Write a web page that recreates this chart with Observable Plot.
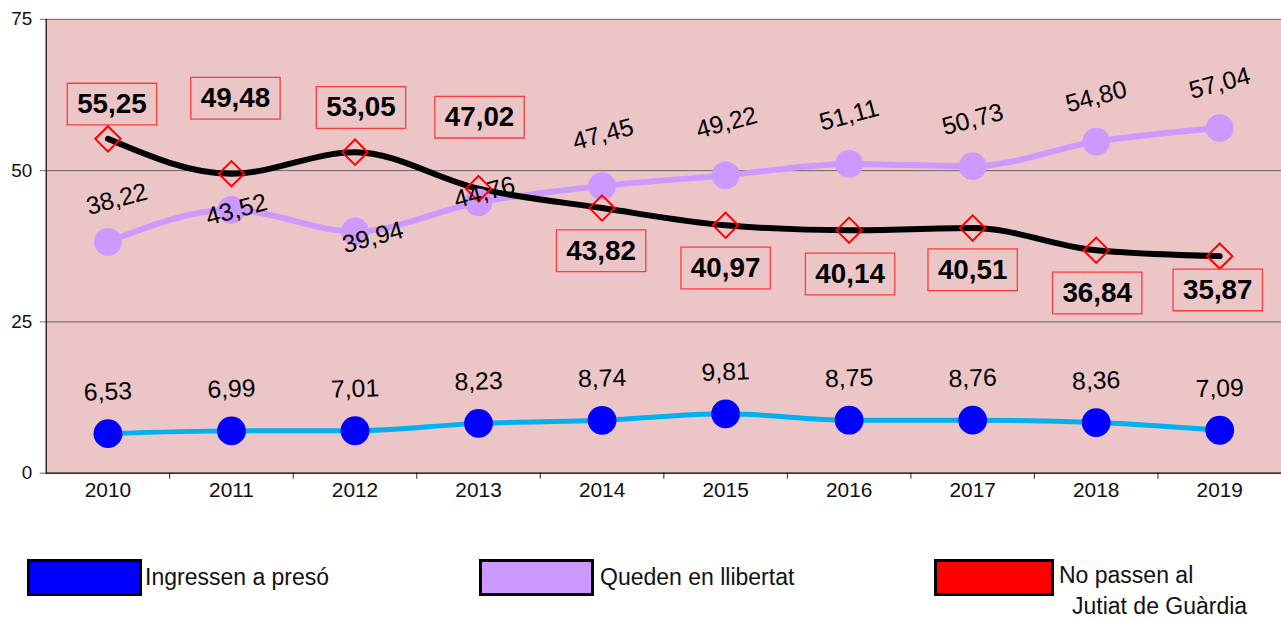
<!DOCTYPE html>
<html>
<head>
<meta charset="utf-8">
<script src="https://cdn.jsdelivr.net/npm/d3@7"></script>
<script src="https://cdn.jsdelivr.net/npm/@observablehq/plot@0.6"></script>
<style>
  html, body { margin: 0; padding: 0; background: #fff; }
  #wrap { position: relative; width: 1281px; height: 621px; overflow: hidden; font-family: "Liberation Sans", Arial, sans-serif; }
  #chart { position: absolute; left: 0; top: 0; }
  .lg-box { position: absolute; box-sizing: border-box; border: 3px solid #000; width: 115px; height: 37px; }
  .lg-txt { position: absolute; font-size: 23px; line-height: 28px; color: #111; white-space: nowrap; }
</style>
</head>
<body>
<div id="wrap">
  <div id="chart"></div>
  <div class="lg-box" style="left:27px; top:559px; background:#0000ff;"></div>
  <div class="lg-txt" style="left:145px; top:563px;">Ingressen a presó</div>
  <div class="lg-box" style="left:479px; top:559px; background:#cc99ff;"></div>
  <div class="lg-txt" style="left:600px; top:563px;">Queden en llibertat</div>
  <div class="lg-box" style="left:934px; top:559px; width:120px; background:#ff0000;"></div>
  <div class="lg-txt" style="left:1059px; top:561px;">No passen al</div>
  <div class="lg-txt" style="left:1072px; top:592px;">Jutiat de Guàrdia</div>
</div>
<script>
// ---- data ----
const years = [2010, 2011, 2012, 2013, 2014, 2015, 2016, 2017, 2018, 2019];
const ingressen = [6.53, 6.99, 7.01, 8.23, 8.74, 9.81, 8.75, 8.76, 8.36, 7.09];
const queden = [38.22, 43.52, 39.94, 44.76, 47.45, 49.22, 51.11, 50.73, 54.80, 57.04];
const noPassen = [55.25, 49.48, 53.05, 47.02, 43.82, 40.97, 40.14, 40.51, 36.84, 35.87];
const yTicks = [0, 25, 50, 75];

// ---- label layout (pixel offsets, not data) ----
const quedenDy = [-43, 0, 6, -10, -52, -53, -49, -47, -45, -45];
const quedenDx = [9, 5, 18, 6, 1, 1, 0, 0, 0, 0];
const noPassenDy = [-35, -76, -45, -72, 43, 43, 44, 42, 43, 34];
const noPassenDx = [4, 4, 6, 1, -1, 0, 1, 0, 1, -2];

const fmt = v => v.toFixed(2).replace(".", ",");
const idx = years.map((_, i) => i);
const FONT = "Liberation Sans, Arial, sans-serif";

const boxSymbol = { draw(ctx) { ctx.rect(-45, -21, 90, 42); } };

const marks = [
  Plot.frame({ fill: "#ecc5c7", stroke: null }),
  Plot.ruleY(yTicks.filter(t => t > 0), { stroke: "#6e6266", strokeWidth: 1 }),
  Plot.ruleX(years.slice(1), { x: d => d - 0.5, y1: 0, y2: -1, stroke: "#222" }),
  Plot.ruleY([0], { stroke: "#000", strokeWidth: 1.2 }),
  Plot.ruleX([years[0] - 0.5], { stroke: "#000", strokeWidth: 1.2 }),
  Plot.axisY({ ticks: yTicks, tickSize: 6, tickPadding: 8, fontSize: 19, stroke: "#666", fill: "#111", label: null }),
  Plot.axisX({ ticks: years, tickFormat: "d", tickSize: 0, tickPadding: 8, fontSize: 21, fill: "#111", label: null }),
  Plot.line(idx, { x: i => years[i], y: i => ingressen[i], stroke: "#00b0f0", strokeWidth: 5, curve: "monotone-x" }),
  Plot.line(idx, { x: i => years[i], y: i => queden[i], stroke: "#cc99ff", strokeWidth: 6, curve: "monotone-x" }),
  Plot.line(idx, { x: i => years[i], y: i => noPassen[i], stroke: "#000", strokeWidth: 6, curve: "monotone-x" }),
  Plot.dot(idx, { x: i => years[i], y: i => ingressen[i], r: 14.5, fill: "#0000ff", stroke: null }),
  Plot.dot(idx, { x: i => years[i], y: i => queden[i], r: 14, fill: "#cc99ff", stroke: null }),
  Plot.dot(idx, { x: i => years[i], y: i => noPassen[i], symbol: "diamond2", r: 11.5, fill: "none", stroke: "#ff0000", strokeWidth: 2 }),
  Plot.text(idx, { x: i => years[i], y: i => ingressen[i], text: i => fmt(ingressen[i]), dy: -42, rotate: -2, fontSize: 25, fill: "#000", fontFamily: FONT })
];

idx.forEach(i => {
  marks.push(Plot.text([i], { x: i => years[i], y: i => queden[i], text: i => fmt(queden[i]), dx: quedenDx[i], dy: quedenDy[i], rotate: -15, fontSize: 25, fill: "#000", fontFamily: FONT }));
  marks.push(Plot.dot([i], { x: i => years[i], y: i => noPassen[i], dx: noPassenDx[i], dy: noPassenDy[i], symbol: boxSymbol, r: 5, fill: "none", stroke: "#ff3b3b", strokeWidth: 1.3 }));
  marks.push(Plot.text([i], { x: i => years[i], y: i => noPassen[i], text: i => fmt(noPassen[i]), dx: noPassenDx[i], dy: noPassenDy[i], fontSize: 28, fontWeight: "bold", fill: "#000", fontFamily: FONT }));
});

const chart = Plot.plot({
  width: 1290,
  height: 512,
  marginTop: 19,
  marginBottom: 35,
  marginLeft: 46,
  marginRight: 0,
  x: { type: "linear", domain: [years[0] - 0.5, years[years.length - 1] + 0.5] },
  y: { domain: [0, 75], range: [476, 19] },
  style: { fontFamily: FONT, background: "transparent", overflow: "visible" },
  marks
});
document.getElementById("chart").appendChild(chart);
</script>
</body>
</html>
